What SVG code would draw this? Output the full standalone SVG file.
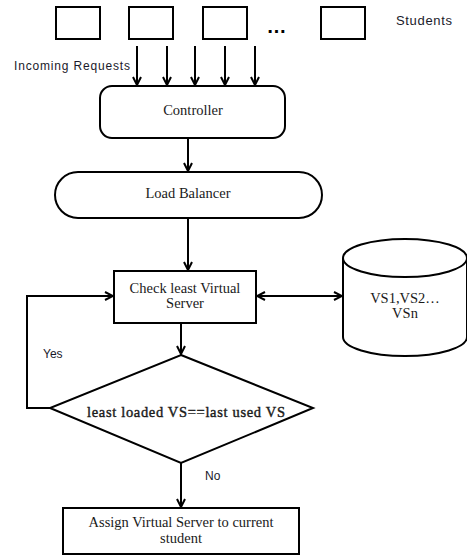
<svg xmlns="http://www.w3.org/2000/svg" width="467" height="556" viewBox="0 0 467 556">
<defs>
<marker id="ah" viewBox="0 0 10 10" refX="9" refY="5" markerWidth="10" markerHeight="10" markerUnits="userSpaceOnUse" orient="auto-start-reverse">
<path d="M1,1 L9,5 L1,9" fill="none" stroke="#000" stroke-width="2"/>
</marker>
<style>
.s{fill:#fff;stroke:#000;stroke-width:2}
.c{fill:none;stroke:#000;stroke-width:2}
.t{font-family:"Liberation Serif","Times New Roman",serif;font-size:14.5px;fill:#1a1a1a;text-anchor:middle}
.a{font-family:"Liberation Sans",Arial,sans-serif;font-size:12px;fill:#1a1a2a}
</style>
</defs>
<rect width="467" height="556" fill="#fff"/>
<g id="student1"><rect class="s" x="56" y="7" width="44" height="32"/></g>
<g id="student2"><rect class="s" x="129" y="7" width="44" height="32"/></g>
<g id="student3"><rect class="s" x="203" y="7" width="44" height="32"/></g>
<g id="dots"><text x="277" y="33" font-family="Liberation Sans,Arial,sans-serif" font-size="20" font-weight="bold" text-anchor="middle" fill="#000" letter-spacing="1">…</text></g>
<g id="student4"><rect class="s" x="321" y="7" width="44" height="32"/></g>
<text class="a" x="396" y="25" style="font-size:13px" textLength="56">Students</text>
<text class="a" x="14" y="70" textLength="116">Incoming Requests</text>
<g id="controller"><rect class="s" x="100" y="86" width="185" height="52" rx="12"/><text class="t" x="193" y="115">Controller</text></g>
<g id="loadbalancer"><rect class="s" x="55" y="172" width="267" height="46" rx="23"/><text class="t" x="188" y="198">Load Balancer</text></g>
<g id="check"><rect class="s" x="114" y="271" width="142" height="52"/><text class="t" x="185" y="293">Check least Virtual</text><text class="t" x="185" y="308">Server</text></g>
<g id="vsdb"><path class="s" d="M343,258 L343,337 A62,19 0 0 0 467,337 L467,258"/><ellipse class="s" cx="405" cy="258" rx="62" ry="19"/><text class="t" x="405" y="303">VS1,VS2…</text><text class="t" x="405" y="318">VSn</text></g>
<g id="decision"><polygon class="s" points="181,355 313,408 181,463 50,408"/><text class="t" x="186" y="417" textLength="198" stroke="#1a1a1a" stroke-width="0.4">least loaded VS==last used VS</text></g>
<g id="assign"><rect class="s" x="63" y="508" width="236" height="46"/><text class="t" x="181" y="527">Assign Virtual Server to current</text><text class="t" x="181" y="543">student</text></g>
<text class="a" x="43" y="358">Yes</text>
<text class="a" x="205" y="480">No</text>
<g id="connectors">
<line class="c" x1="137" y1="46" x2="137" y2="85" marker-end="url(#ah)"/>
<line class="c" x1="167" y1="46" x2="167" y2="85" marker-end="url(#ah)"/>
<line class="c" x1="195" y1="46" x2="195" y2="85" marker-end="url(#ah)"/>
<line class="c" x1="225" y1="46" x2="225" y2="85" marker-end="url(#ah)"/>
<line class="c" x1="255" y1="46" x2="255" y2="85" marker-end="url(#ah)"/>
<line class="c" x1="188" y1="138" x2="188" y2="171" marker-end="url(#ah)"/>
<line class="c" x1="188" y1="218" x2="188" y2="270" marker-end="url(#ah)"/>
<line class="c" x1="257" y1="296" x2="342" y2="296" marker-start="url(#ah)" marker-end="url(#ah)"/>
<line class="c" x1="181" y1="323" x2="181" y2="354" marker-end="url(#ah)"/>
<polyline class="c" points="50,408 27,408 27,296 113,296" marker-end="url(#ah)"/>
<line class="c" x1="181" y1="463" x2="181" y2="507" marker-end="url(#ah)"/>
</g>
</svg>
